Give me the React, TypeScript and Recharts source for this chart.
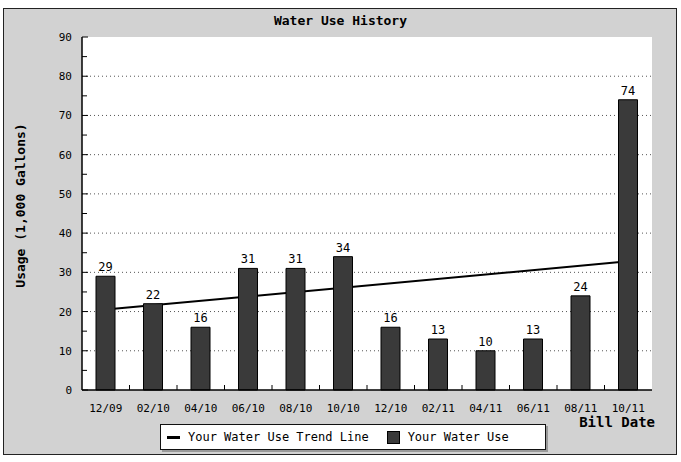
import React from "react";
import {
  ComposedChart,
  Bar,
  Line,
  XAxis,
  YAxis,
  CartesianGrid,
  Legend,
  LabelList,
} from "recharts";

const billDates = ["12/09", "02/10", "04/10", "06/10", "08/10", "10/10", "12/10", "02/11", "04/11", "06/11", "08/11", "10/11"];
const usage = [29, 22, 16, 31, 31, 34, 16, 13, 10, 13, 24, 74];
// trend line read at its two ends
const trend = [20.5, null, null, null, null, null, null, null, null, null, null, 32.8];
const yTicks = [0, 5, 10, 15, 20, 25, 30, 35, 40, 45, 50, 55, 60, 65, 70, 75, 80, 85, 90];
const gridLines = [10, 20, 30, 40, 50, 60, 70, 80];

const data = billDates.map((d, i) => ({ date: d, usage: usage[i], trend: trend[i] }));

const MONO = "'DejaVu Sans Mono', monospace";
const HALF_BAND = (652 - 82) / 12 / 2;

const YTick = (props: any) => {
  const { x, y, payload } = props;
  const major = payload.value % 10 === 0;
  return (
    <g>
      <line x1={x + 10} x2={x + (major ? 16 : 15)} y1={y} y2={y} stroke="#000" />
      {major && (
        <text x={x} y={y} dy={4} textAnchor="end" fontFamily={MONO} fontSize={11} fill="#000">
          {payload.value}
        </text>
      )}
    </g>
  );
};

const XTick = (props: any) => {
  const { x, y, payload, index } = props;
  const axisY = y - 14;
  return (
    <g>
      {index < billDates.length - 1 && (
        <line x1={x + HALF_BAND} x2={x + HALF_BAND} y1={axisY} y2={axisY - 5} stroke="#000" />
      )}
      <text x={x} y={y} dy={8} textAnchor="middle" fontFamily={MONO} fontSize={11} fill="#000">
        {payload.value}
      </text>
    </g>
  );
};

const LegendBox = () => (
  <div
    style={{
      boxSizing: "border-box",
      width: 386,
      height: 26,
      background: "#fff",
      border: "1px solid #111",
      boxShadow: "2px 2px 0 #999",
      display: "flex",
      alignItems: "center",
      fontFamily: MONO,
      fontSize: 12,
      color: "#000",
      paddingLeft: 6,
    }}
  >
    <span style={{ display: "inline-block", width: 13, height: 3, background: "#000", marginRight: 8 }} />
    <span>Your Water Use Trend Line</span>
    <span
      style={{
        display: "inline-block",
        width: 11,
        height: 11,
        background: "#3a3a3a",
        border: "1px solid #000",
        marginLeft: 18,
        marginRight: 8,
      }}
    />
    <span>Your Water Use</span>
  </div>
);

export default function App() {
  return (
    <div style={{ position: "absolute", left: 0, top: 0, width: 681, height: 462, background: "#fff" }}>
      <div
        style={{
          position: "absolute",
          left: 3,
          top: 8,
          width: 672,
          height: 445,
          border: "1px solid #222",
          background: "#d2d2d2",
        }}
      />
      <div
        style={{
          position: "absolute",
          left: 0,
          top: 13,
          width: 681,
          textAlign: "center",
          fontFamily: MONO,
          fontWeight: "bold",
          fontSize: 13,
          color: "#000",
        }}
      >
        Water Use History
      </div>
      <div style={{ position: "absolute", left: 0, top: 0 }}>
        <ComposedChart width={681} height={462} data={data} margin={{ top: 37, right: 29, left: 32, bottom: 32 }}>
          <CartesianGrid
            fill="#fff"
            vertical={false}
            horizontalValues={gridLines}
            stroke="#555"
            strokeDasharray="1 3"
          />
          <XAxis
            dataKey="date"
            height={40}
            tickLine={false}
            tickSize={0}
            tickMargin={14}
            interval={0}
            tick={<XTick />}
            axisLine={{ stroke: "#000", strokeWidth: 1.5 }}
            label={{
              value: "Bill Date",
              position: "insideBottomRight",
              offset: 0,
              dx: 3,
              dy: -3,
              style: { fontFamily: MONO, fontWeight: "bold", fontSize: 14, fill: "#000" },
            }}
          />
          <YAxis
            width={50}
            domain={[0, 90]}
            ticks={yTicks}
            interval={0}
            tickLine={false}
            tickSize={0}
            tickMargin={10}
            tick={<YTick />}
            axisLine={{ stroke: "#000", strokeWidth: 1.5 }}
            label={{
              value: "Usage (1,000 Gallons)",
              content: (p: any) => {
                const vb = p.viewBox;
                const cx = vb.x - 12;
                const cy = vb.y + vb.height / 2 - 8;
                return (
                  <text
                    x={cx}
                    y={cy}
                    transform={`rotate(-90 ${cx} ${cy})`}
                    textAnchor="middle"
                    dominantBaseline="central"
                    fontFamily={MONO}
                    fontWeight="bold"
                    fontSize={13}
                    fill="#000"
                  >
                    Usage (1,000 Gallons)
                  </text>
                );
              },
            }}
          />
          <YAxis
            yAxisId="right"
            orientation="right"
            width={0}
            domain={[0, 90]}
            tick={false}
            tickLine={false}
            axisLine={{ stroke: "#666", strokeDasharray: "1 2" }}
          />
          <Line
            dataKey="trend"
            connectNulls
            stroke="#000"
            strokeWidth={2}
            dot={false}
            activeDot={false}
            isAnimationActive={false}
            legendType="line"
            {...({ zIndex: 250 } as any)}
          />
          <Bar dataKey="usage" barSize={19} fill="#3a3a3a" stroke="#000" isAnimationActive={false}>
            <LabelList
              dataKey="usage"
              position="top"
              offset={5}
              style={{ fontFamily: MONO, fontSize: 12, fill: "#000" }}
            />
          </Bar>
          <Legend
            layout="horizontal"
            verticalAlign="middle"
            align="center"
            wrapperStyle={{ left: 160, top: 424, width: 386, height: 26 }}
            content={() => <LegendBox />}
          />
        </ComposedChart>
      </div>
    </div>
  );
}
